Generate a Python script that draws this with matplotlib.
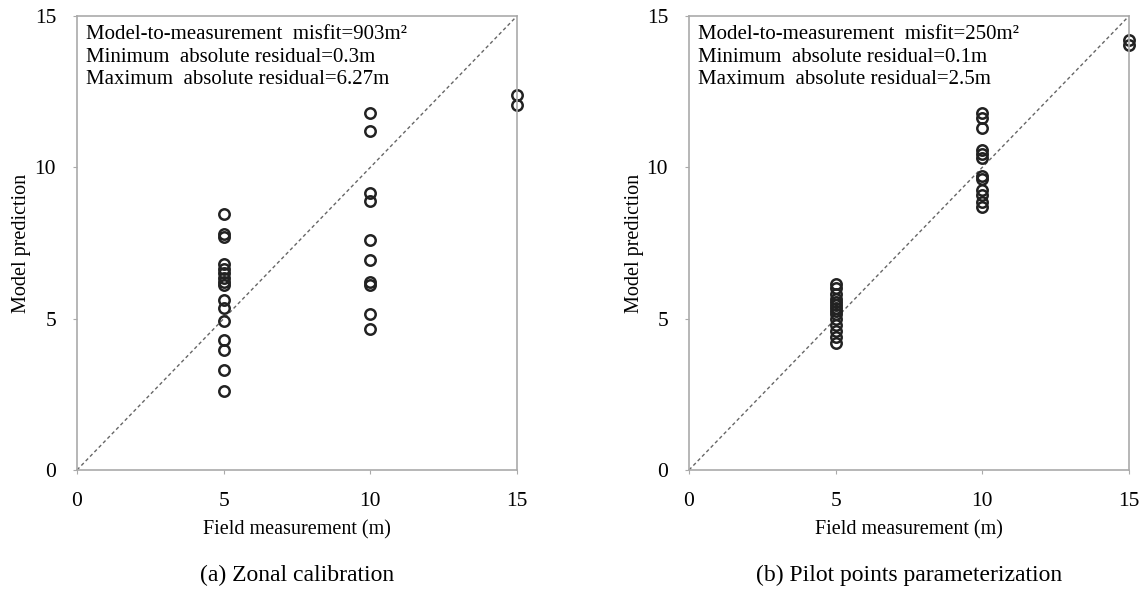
import numpy as np
import matplotlib.pyplot as plt

plt.rcParams['font.family'] = ['Liberation Serif', 'DejaVu Serif']

# (a) zonal calibration
zonal_x5 = [8.45, 7.8, 7.7, 6.8, 6.65, 6.5, 6.33, 6.22, 6.1, 5.62, 5.34, 4.92, 4.28, 3.98, 3.3, 2.62]
zonal_x10 = [11.8, 11.2, 9.15, 8.9, 7.6, 6.95, 6.22, 6.12, 5.15, 4.66]
zonal_x15 = [12.4, 12.05]

# (b) pilot points
pilot_x5 = [6.15, 6.0, 5.8, 5.65, 5.55, 5.45, 5.35, 5.25, 5.15, 5.0, 4.8, 4.6, 4.4, 4.2]
pilot_x10 = [11.78, 11.62, 11.3, 10.57, 10.45, 10.3, 9.7, 9.63, 9.25, 9.08, 8.87, 8.7]
pilot_x15 = [14.2, 14.05]

panels = [
    ([zonal_x5, zonal_x10, zonal_x15],
     ['Model-to-measurement  misfit=903m²',
      'Minimum  absolute residual=0.3m',
      'Maximum  absolute residual=6.27m'],
     '(a) Zonal calibration'),
    ([pilot_x5, pilot_x10, pilot_x15],
     ['Model-to-measurement  misfit=250m²',
      'Minimum  absolute residual=0.1m',
      'Maximum  absolute residual=2.5m'],
     '(b) Pilot points parameterization'),
]
field_values = [5, 10, 15]

fig = plt.figure(figsize=(11.45, 5.92), dpi=100)
lefts = [77 / 1145, 689 / 1145]

for left, (preds, lines, caption) in zip(lefts, panels):
    ax = fig.add_axes([left, 1 - 470 / 592, 440 / 1145, 454 / 592])
    ax.plot([0, 15], [0, 15], ls=(0, (2.5, 2)), color='#666666', lw=1.0)
    for fv, p in zip(field_values, preds):
        ax.plot([fv] * len(p), p, 'o', mfc='none', mec='#222222', ms=7.5, mew=1.8,
                clip_on=False)
    ax.set_xlim(0, 15)
    ax.set_ylim(0, 15)
    ax.set_xticks([0, 5, 10, 15])
    ax.set_yticks([0, 5, 10, 15])
    ax.tick_params(length=3, color='#aaaaaa', labelsize=15.5)
    ax.tick_params(axis='x', pad=12.5)
    ax.tick_params(axis='y', pad=12)
    for s in ax.spines.values():
        s.set_color('#aaaaaa')
        s.set_linewidth(1.2)
    ax.set_xlabel('Field measurement (m)', fontsize=14.5)
    ax.set_ylabel('Model prediction', fontsize=14.5)
    ax.xaxis.set_label_coords(0.5, -60 / 454)
    ax.xaxis.label.set_va('center')
    ax.yaxis.set_label_coords(-55 / 440, 0.5)
    ax.yaxis.label.set_va('center')
    ax.text(0.02, 0.98, '\n'.join(lines), transform=ax.transAxes,
            va='top', ha='left', fontsize=15, linespacing=1.26)
    ax.text(0.5, -105 / 454, caption, transform=ax.transAxes,
            ha='center', va='center', fontsize=17)

fig.savefig('out.png', dpi=100)
